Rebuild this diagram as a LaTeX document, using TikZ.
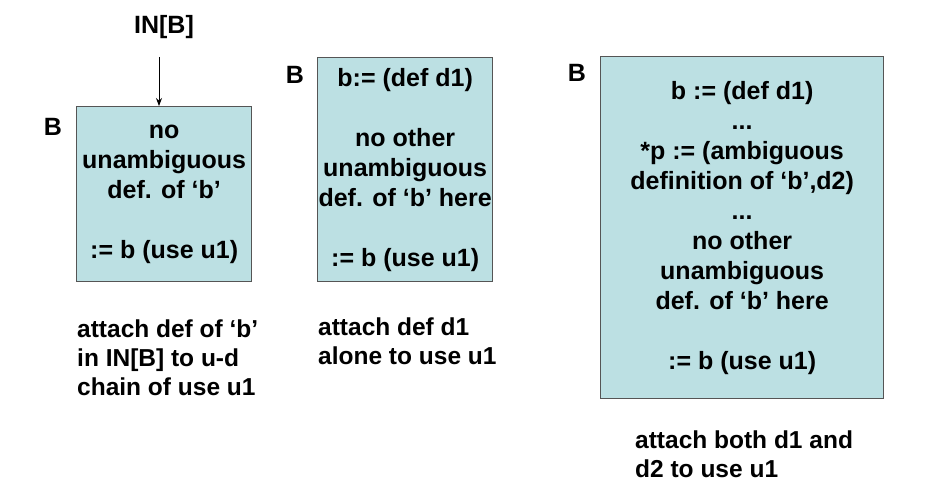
\documentclass[tikz,border=0pt]{standalone}
\usepackage{fontspec}
\setmainfont{Liberation Sans}
\usetikzlibrary{arrows.meta}
\definecolor{blockfill}{RGB}{188,224,227}
\definecolor{blockline}{RGB}{85,85,85}
\tikzset{
	block/.style={draw=blockline, line width=1.3pt, fill=blockfill, anchor=north west,
		inner sep=0pt, align=center, font=\bfseries\fontsize{25}{30}\selectfont},
	blocklabel/.style={inner sep=0pt, font=\bfseries\fontsize{25}{30}\selectfont},
	caption/.style={anchor=north west, inner sep=0pt, align=left,
		font=\bfseries\fontsize{24.5}{29}\selectfont}
}

\begin{document}
\begin{tikzpicture}[x=1pt, y=-1pt]
			%%%%% START %%%%%
			
			\useasboundingbox (0, 0) rectangle (937, 493);
			
			\node[blocklabel] (inB) at (164, 27) {IN[B]};
			\node[blocklabel] (labA) at (53, 127) {B};
			\node[block, minimum width=175, minimum height=175] (boxA) at (76, 106)
				{no\\unambiguous\\def. of ‘b’\\[30pt]:= b (use u1)};
			\draw[line width=0.8pt, -{Stealth[length=8pt, width=6pt]}, shorten <=18pt] ([xshift=-5pt]inB.south) -- ([xshift=-5pt]inB.south |- boxA.north);
			\node[caption] (capA) at (77, 320)
				{attach def of ‘b’\\in IN[B] to u-d\\chain of use u1};
			
			\node[blocklabel] (labB) at (295, 75) {B};
			\node[block, minimum width=175, minimum height=224] (boxB) at (317, 57)
				{b:= (def d1)\\[30pt]no other\\unambiguous\\def. of ‘b’ here\\[30pt]:= b (use u1)};
			\node[caption] (capB) at (318, 318)
				{attach def d1\\alone to use u1};
			
			\node[blocklabel] (labC) at (577, 73) {B};
			\node[block, minimum width=283, minimum height=342] (boxC) at (600, 56)
				{b := (def d1)\\...\\*p := (ambiguous\\definition of ‘b’,d2)\\...\\no other\\unambiguous\\def. of ‘b’ here\\[30pt]:= b (use u1)};
			\node[caption] (capC) at (635, 431)
				{attach both d1 and\\d2 to use u1};
			
			%%%%% END %%%%%
\end{tikzpicture}
\end{document}
